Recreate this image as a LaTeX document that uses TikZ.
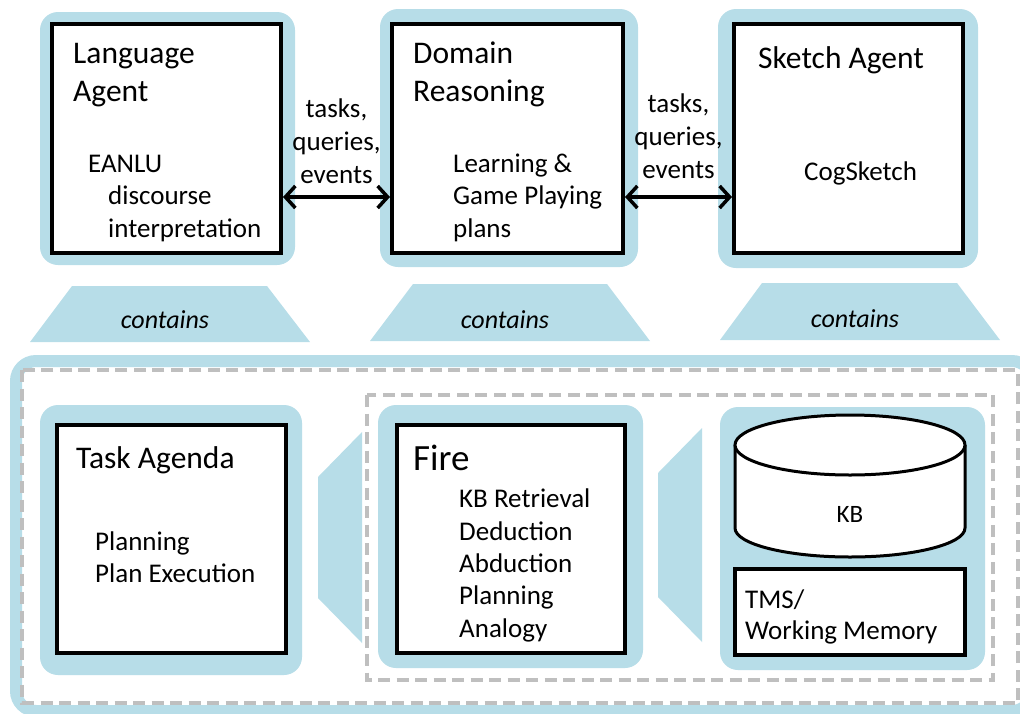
\documentclass[tikz,border=0pt]{standalone}
\usepackage{fontspec}
\setmainfont{Carlito}
\usetikzlibrary{arrows.meta}

\definecolor{panelblue}{RGB}{183,221,232}
\definecolor{dashgray}{RGB}{191,191,191}

\begin{document}
\begin{tikzpicture}[x=1pt,y=-1pt,
        panel/.style={fill=panelblue,rounded corners=18pt},
        agentbox/.style={draw,line width=4pt,fill=white,inner sep=0pt},
        title/.style={anchor=base west,align=left,inner sep=0pt,font=\fontsize{31.5}{38.5}\selectfont},
        body/.style={anchor=base west,align=left,inner sep=0pt,font=\fontsize{27}{32.5}\selectfont},
        note/.style={align=center,inner sep=0pt,font=\fontsize{27}{33}\selectfont},
        link/.style={line width=3.5pt,{Straight Barb[length=10pt,width=22pt]}-{Straight Barb[length=10pt,width=22pt]}},
        frame/.style={draw=dashgray,line width=3.5pt,dash pattern=on 12pt off 6.5pt}]
        \useasboundingbox (0,0) rectangle (1020,713);

        % agents on top (multi-line nodes sit on their last baseline)
        \fill[panel] (40,12) rectangle (295,265);
        \fill[panel] (380,9) rectangle (638,267);
        \fill[panel] (718,9) rectangle (978,268);
        \node[agentbox,minimum width=229pt,minimum height=229pt] (lang) at (166.5,138.5) {};
        \node[agentbox,minimum width=231pt,minimum height=229pt] (domain) at (507.5,138.5) {};
        \node[agentbox,minimum width=229pt,minimum height=229pt] (sketch) at (848.5,138.5) {};
        \node[title] (langtitle) at (73,101.5) {Language\\Agent};
        \node[body] (langbody) at (88,237) {EANLU\\\hspace*{20pt}discourse\\\hspace*{20pt}interpretation};
        \node[title] (domaintitle) at (413,101.5) {Domain\\Reasoning};
        \node[body] (domainbody) at (453,237) {Learning \&\\Game Playing\\plans};
        \node[title] (sketchtitle) at (758,68) {Sketch Agent};
        \node[body] (sketchbody) at (804,180) {CogSketch};
        \draw[link] ([yshift=-58.5pt]lang.east) -- node[note,above=12pt] (msgleft) {tasks,\\queries,\\events} ([yshift=-58.5pt]domain.west);
        \draw[link] ([yshift=-58.5pt]domain.east) -- node[note,above=17pt] (msgright) {tasks,\\queries,\\events} ([yshift=-58.5pt]sketch.west);

        % contains
        \fill[panelblue] (30,342) -- (72,286) -- (267,286) -- (310,342) -- cycle;
        \fill[panelblue] (370,341) -- (413,284) -- (607,284) -- (650,341) -- cycle;
        \fill[panelblue] (720,340) -- (762,283) -- (957,283) -- (1000,340) -- cycle;
        \node[note,anchor=base,font=\fontsize{26}{32}\selectfont\itshape] (containsleft) at (165,328) {contains};
        \node[note,anchor=base,font=\fontsize{26}{32}\selectfont\itshape] (containsmid) at (505,328) {contains};
        \node[note,anchor=base,font=\fontsize{26}{32}\selectfont\itshape] (containsright) at (855,327) {contains};

        % companion below
        \draw[draw=panelblue,line width=12pt,fill=white,rounded corners=20pt] (16,361) rectangle (1032,711);
        \draw[frame] (22,370) rectangle (1018,703);
        \draw[frame] (367,395) rectangle (993,680);
        \fill[panel] (40,405) rectangle (302,675);
        \fill[panel] (378,405) rectangle (643,668);
        \fill[panel] (720,407) rectangle (985,670);
        \fill[panelblue] (318,477) -- (362,432) -- (362,643) -- (318,598) -- cycle;
        \fill[panelblue] (658,473) -- (702,428) -- (702,642) -- (658,597) -- cycle;

        \node[agentbox,minimum width=229pt,minimum height=228pt] (task) at (171.5,539) {};
        \node[title] (tasktitle) at (76,468) {Task Agenda};
        \node[body,font=\fontsize{27}{32}\selectfont] (taskbody) at (95,582) {Planning\\Plan Execution};

        \node[agentbox,minimum width=228pt,minimum height=228pt] (fire) at (511,539) {};
        \node[title,font=\fontsize{37}{44}\selectfont] (firetitle) at (413,470) {Fire};
        \node[body,font=\fontsize{27}{32.3}\selectfont] (firebody) at (459,637) {KB Retrieval\\Deduction\\Abduction\\Planning\\Analogy};

        \draw[line width=3pt,fill=white] (735,445) -- (735,528) arc[start angle=180,end angle=0,x radius=115,y radius=29] -- (965,445);
        \draw[line width=3pt,fill=white] (850,445) ellipse[x radius=115,y radius=30];
        \node[note,font=\fontsize{25}{30}\selectfont] (kb) at (850,514) {KB};
        \node[agentbox,minimum width=230pt,minimum height=86pt] (tms) at (850,612) {};
        \node[body,font=\fontsize{27}{31}\selectfont] (tmstext) at (745,639) {TMS/\\Working Memory};
    \end{tikzpicture}
\end{document}
